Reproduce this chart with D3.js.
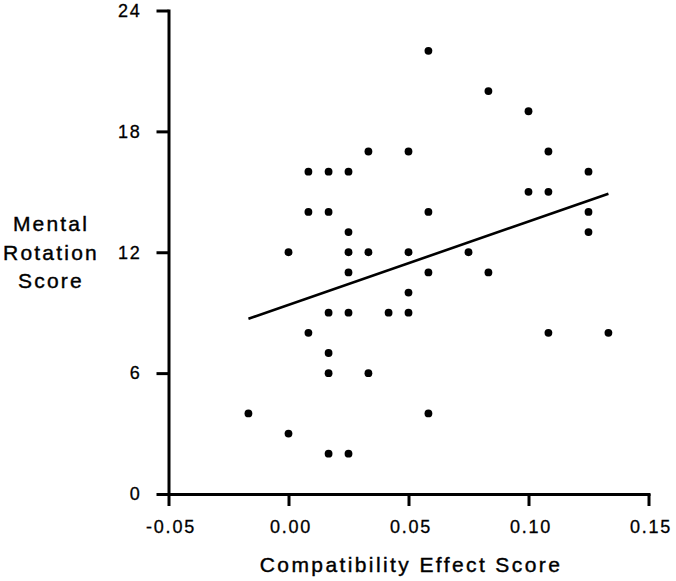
<!DOCTYPE html>
<html>
<head>
<meta charset="utf-8">
<script src="https://cdn.jsdelivr.net/npm/d3@7"></script>
<style>
  html, body { margin: 0; padding: 0; background: #fff; }
  svg { display: block; }
  text { font-family: "Liberation Sans", Arial, sans-serif; fill: #000; }
</style>
</head>
<body>
<svg id="chart" width="676" height="581"></svg>
<script>
// ---- data ----
const compatibility = [-0.0167, 0.0, 0.0, 0.0083, 0.0083, 0.0083, 0.0167, 0.0167, 0.0167, 0.0167, 0.0167, 0.0167,
  0.025, 0.025, 0.025, 0.025, 0.025, 0.025, 0.0333, 0.0333, 0.0333, 0.0417, 0.05, 0.05, 0.05, 0.05,
  0.0583, 0.0583, 0.0583, 0.0583, 0.075, 0.0833, 0.0833, 0.1, 0.1, 0.1083, 0.1083, 0.1083, 0.125, 0.125, 0.125, 0.1333];
const mentalRotation = [4, 12, 3, 16, 14, 8, 16, 14, 9, 7, 6, 2,
  16, 13, 12, 11, 9, 2, 17, 12, 6, 9, 17, 12, 10, 9,
  22, 14, 11, 4, 12, 20, 11, 19, 15, 17, 15, 8, 16, 14, 13, 8];
const fitX = [-0.0167, 0.1333];
const fitY = [8.7, 14.9];
const xTicks = [-0.05, 0.00, 0.05, 0.10, 0.15];
const xTickLabels = ["-0.05", "0.00", "0.05", "0.10", "0.15"];
const yTicks = [0, 6, 12, 18, 24];
const xLabel = "Compatibility Effect Score";
const yLabelLines = ["Mental", "Rotation", "Score"];

// ---- chart ----
const svg = d3.select("#chart");
const x = d3.scaleLinear().domain([-0.05, 0.15]).range([168.5, 648.5]);
const y = d3.scaleLinear().domain([0, 24]).range([494, 10.5]);

const xAxis = svg.append("g")
  .attr("transform", `translate(0,${y(0)})`)
  .call(d3.axisBottom(x).tickValues(xTicks).tickFormat((d, i) => xTickLabels[i])
        .tickSize(12).tickSizeOuter(0).tickPadding(14));
const yAxis = svg.append("g")
  .attr("transform", `translate(${x(-0.05)},0)`)
  .call(d3.axisLeft(y).tickValues(yTicks).tickFormat(d3.format("d"))
        .tickSize(12).tickSizeOuter(0).tickPadding(15));

[xAxis, yAxis].forEach(g => {
  g.select(".domain").attr("stroke", "#000").attr("stroke-width", 3).attr("stroke-linecap", "square");
  g.selectAll(".tick line").attr("stroke", "#000").attr("stroke-width", 3);
  g.selectAll(".tick text")
    .style("font-family", "'Liberation Sans', Arial, sans-serif")
    .style("font-size", "18px")
    .style("letter-spacing", "1.8px")
    .attr("fill", "#000")
    .attr("stroke", "#000").attr("stroke-width", 0.3);
});
xAxis.selectAll(".tick text").attr("dx", "2px");

// regression line
svg.append("line")
  .attr("x1", x(fitX[0])).attr("y1", y(fitY[0]))
  .attr("x2", x(fitX[1])).attr("y2", y(fitY[1]))
  .attr("stroke", "#000").attr("stroke-width", 2.6);

// points
svg.append("g").selectAll("circle")
  .data(compatibility.map((c, i) => [c, mentalRotation[i]]))
  .join("circle")
  .attr("cx", d => x(d[0]))
  .attr("cy", d => y(d[1]))
  .attr("r", 3.9)
  .attr("fill", "#000");

// axis titles
svg.append("text")
  .attr("x", 411).attr("y", 572)
  .attr("text-anchor", "middle")
  .style("font-size", "21px")
  .style("letter-spacing", "2.4px")
  .attr("stroke", "#000").attr("stroke-width", 0.4)
  .text(xLabel);

svg.append("text")
  .attr("text-anchor", "middle")
  .style("font-size", "21px")
  .style("letter-spacing", "2.2px")
  .attr("stroke", "#000").attr("stroke-width", 0.4)
  .selectAll("tspan")
  .data(yLabelLines)
  .join("tspan")
  .attr("x", 51)
  .attr("y", (d, i) => 231 + i * 28.5)
  .text(d => d);
</script>
</body>
</html>
